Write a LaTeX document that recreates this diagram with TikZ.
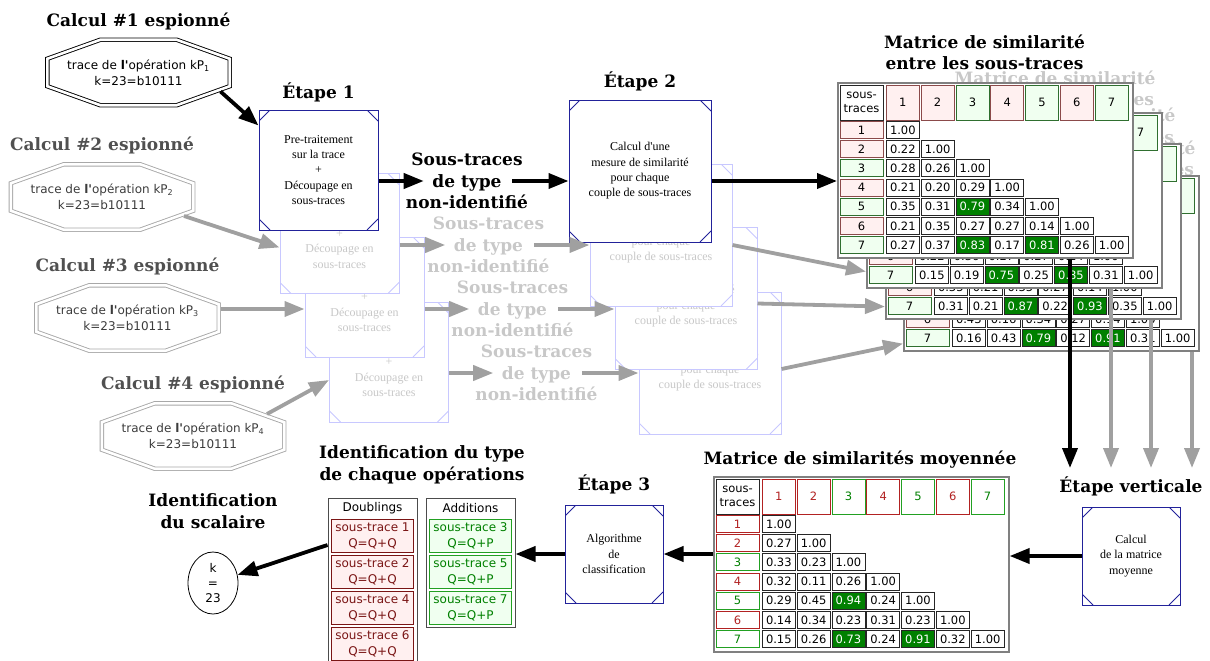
\documentclass[tikz,border=0pt]{standalone}
\usepackage{fontspec}
\setmainfont{DejaVu Serif}
\newfontfamily\tms{Liberation Serif}
\newfontfamily\dvs{DejaVu Sans}
\usepackage{tikz}
\usetikzlibrary{arrows.meta,positioning,calc,shapes.geometric}
\definecolor{BoxNavy}{HTML}{22229A}
\definecolor{FadeBlue}{HTML}{C8C8FF}
\definecolor{FadeText}{HTML}{C8C8C8}
\definecolor{ArrowGray}{HTML}{A0A0A0}
\definecolor{SpyGray}{HTML}{505050}
\definecolor{OctGray}{HTML}{A8A8A8}
\definecolor{OctText}{HTML}{3C3C3C}
\definecolor{FrameGray}{HTML}{808080}
\definecolor{PaleRedFill}{HTML}{FFF0F0}
\definecolor{PaleGreenFill}{HTML}{F0FFF0}
\definecolor{PaleRedLine}{HTML}{8B4A4A}
\definecolor{PaleGreenLine}{HTML}{2F6F2F}
\definecolor{ClassRed}{HTML}{B22222}
\definecolor{ClassGreen}{HTML}{22A022}
\definecolor{TextGreen}{HTML}{008000}
\definecolor{HiGreen}{HTML}{008000}
\definecolor{DoubRed}{HTML}{7A1515}

\newcommand{\pretrait}{Pre-traitement\\sur la trace\\+\\Découpage en\\sous-traces}
\newcommand{\mesure}{Calcul d'une\\mesure de similarité\\pour chaque\\couple de sous-traces}
\newcommand{\nonid}{Sous-traces\\de type\\non-identifié}
\newcommand{\spytrace}[1]{trace de \textbf{l'}opération kP\textsubscript{#1}\\k=23=b10111}
\newcommand{\simmat}[5]{%
  \node[mframe, anchor=north west] (#1) at (#2) {};
  \node[stcell] (#1-st) at ($(#1.north west)+(24.5,20.5)$) {sous-\\traces};
  \foreach \c [count=\j] in {r,r,g,r,g,r,g} {
    \node[#3\c, minimum height=35pt] (#1-h\j) at ($(#1.north west)+(31+34.8*\j,20.5)$) {\j};
    \node[#3\c, minimum width=43pt] (#1-r\j) at ($(#1.north west)+(24.5,28.83+19.17*\j)$) {\j};
  }
  \foreach \row [count=\i from #4] in {#5} {
    \foreach \v [count=\j] in \row {
      \pgfmathtruncatemacro\hival{(\v>0.5)&&(\v<0.99)}
      \ifnum\hival=1 \def\cellst{hicell}\else\def\cellst{valcell}\fi
      \node[\cellst] (#1-\i-\j) at ($(#1.north west)+(31+34.8*\j,28.83+19.17*\i)$) {\v};
    }
  }%
}

\begin{document}
\begin{tikzpicture}[x=1pt, y=-1pt, node distance=8pt,
  ttl/.style={font=\bfseries\fontsize{17}{21.5}\selectfont, align=center, inner sep=0pt},
  octbox/.style={minimum width=182pt, minimum height=65pt, inner sep=0pt, align=center, font=\dvs\fontsize{12}{16}\selectfont},
  octline/.style={draw=#1, double, double distance=2.6pt, line width=0.9pt},
  msq/.style={draw=#1, fill=white, line width=1pt, inner sep=0pt, align=center, font=\tms\fontsize{12}{15.3}\selectfont,
    path picture={\draw[#1, line width=1pt]
      ([yshift=-11pt]path picture bounding box.north west) -- ([xshift=11pt]path picture bounding box.north west)
      ([yshift=-11pt]path picture bounding box.north east) -- ([xshift=-11pt]path picture bounding box.north east)
      ([yshift=11pt]path picture bounding box.south west) -- ([xshift=11pt]path picture bounding box.south west)
      ([yshift=11pt]path picture bounding box.south east) -- ([xshift=-11pt]path picture bounding box.south east);}},
  fade/.style={msq=FadeBlue, text=FadeText},
  s1box/.style={minimum width=119pt, minimum height=120pt},
  s2box/.style={minimum width=142pt, minimum height=142pt},
  s3box/.style={minimum width=98pt, minimum height=98pt},
  arr/.style={-{Triangle[length=20pt,width=15pt]}, line width=3.8pt},
  garr/.style={arr, draw=ArrowGray},
  mframe/.style={draw=FrameGray, line width=1.6pt, fill=white, minimum width=295pt, minimum height=175pt, inner sep=0pt},
  valcell/.style={draw=black!85, fill=white, line width=0.8pt, inner sep=0pt, minimum width=33pt, minimum height=17pt, font=\dvs\fontsize{11.5}{13}\selectfont},
  hicell/.style={valcell, fill=HiGreen, text=white},
  stcell/.style={valcell, minimum width=43pt, minimum height=35pt, align=center, font=\dvs\fontsize{11.5}{14}\selectfont},
  paler/.style={valcell, fill=PaleRedFill, draw=PaleRedLine},
  paleg/.style={valcell, fill=PaleGreenFill, draw=PaleGreenLine},
  liner/.style={valcell, draw=ClassRed, text=ClassRed},
  lineg/.style={valcell, draw=ClassGreen, text=TextGreen},
  tframe/.style={draw=black!70, line width=1pt, fill=white, inner sep=0pt, minimum width=89pt},
  thead/.style={font=\dvs\fontsize{12}{15}\selectfont, inner sep=0pt},
  dcell/.style={draw=DoubRed, fill=PaleRedFill, text=DoubRed, line width=0.9pt, minimum width=82pt, minimum height=33pt, inner sep=0pt, align=center, font=\dvs\fontsize{12}{16}\selectfont},
  acell/.style={dcell, draw=ClassGreen, fill=PaleGreenFill, text=TextGreen}]
\useasboundingbox (0,0) rectangle (1210,661);

\node[octbox] (o1) at (138.5,72.5) {\spytrace{1}};
\node[octbox, text=OctText] (o2) at (102,197) {\spytrace{2}};
\node[octbox, text=OctText] (o3) at (127.5,318) {\spytrace{3}};
\node[octbox, text=OctText] (o4) at (193,436) {\spytrace{4}};
\foreach \n/\c in {o1/black,o2/OctGray,o3/OctGray,o4/OctGray}
  \draw[octline=\c] ($(\n.north west)!0.29!(\n.north east)$) -- ($(\n.north west)!0.71!(\n.north east)$)
    -- ($(\n.north east)!0.29!(\n.south east)$) -- ($(\n.north east)!0.71!(\n.south east)$)
    -- ($(\n.south west)!0.71!(\n.south east)$) -- ($(\n.south west)!0.29!(\n.south east)$)
    -- ($(\n.north west)!0.71!(\n.south west)$) -- ($(\n.north west)!0.29!(\n.south west)$) -- cycle;
\node[ttl, above=10pt of o1] (c1) {Calcul \#1 espionné};
\node[ttl, text=SpyGray, above=10pt of o2] (c2) {Calcul \#2 espionné};
\node[ttl, text=SpyGray, above=10pt of o3] (c3) {Calcul \#3 espionné};
\node[ttl, text=SpyGray, above=10pt of o4] (c4) {Calcul \#4 espionné};

\node[fade, s1box] (s1d) at (389,362) {\pretrait};
\node[fade, s1box] (s1c) at (364.5,297) {\pretrait};
\node[fade, s1box] (s1b) at (339.5,233.5) {\pretrait};
\node[msq=BoxNavy, s1box] (s1) at (318.5,170) {\pretrait};
\node[ttl, above=7pt of s1] (e1) {Étape 1};

\node[ttl] (lab1) at (467,181) {\nonid};
\node[ttl, text=FadeText] (lab2) at (488.5,245) {\nonid};
\node[ttl, text=FadeText] (lab3) at (512.5,309) {\nonid};
\node[ttl, text=FadeText] (lab4) at (536.5,373) {\nonid};

\node[fade, s2box] (s2d) at (710,363) {\mesure};
\node[fade, s2box] (s2c) at (686,298.5) {\mesure};
\node[fade, s2box] (s2b) at (661,235) {\mesure};
\node[msq=BoxNavy, s2box] (s2) at (640,171) {\mesure};
\node[ttl, above=of s2] (e2) {Étape 2};

\node[ttl, text=FadeText] (t4) at (1095,158.5) {Matrice de similarité\\entre les sous-traces};
\simmat{m4}{903,175}{pale}{6}{{0.43,0.16,0.34,0.27,0.14,1.00},{0.16,0.43,0.79,0.12,0.91,0.31,1.00}}
\node[ttl, text=FadeText] (t3) at (1075,126) {Matrice de similarité\\entre les sous-traces};
\simmat{m3}{885,143}{pale}{6}{{0.35,0.21,0.35,0.27,0.14,1.00},{0.31,0.21,0.87,0.22,0.93,0.35,1.00}}
\node[ttl, text=FadeText] (t2) at (1055,88.5) {Matrice de similarité\\entre les sous-traces};
\simmat{m2}{866,112}{pale}{6}{{0.22,0.36,0.27,0.27,0.14,1.00},{0.15,0.19,0.75,0.25,0.85,0.31,1.00}}
\node[ttl] (t1) at (984.5,52.5) {Matrice de similarité\\entre les sous-traces};
\simmat{m1}{837,82}{pale}{1}{{1.00},{0.22,1.00},{0.28,0.26,1.00},{0.21,0.20,0.29,1.00},{0.35,0.31,0.79,0.34,1.00},{0.21,0.35,0.27,0.27,0.14,1.00},{0.27,0.37,0.83,0.17,0.81,0.26,1.00}}

\node[msq=BoxNavy, s3box] (sv) at (1131,556) {Calcul\\de la matrice\\moyenne};
\node[ttl, above=10pt of sv] (ev) {Étape verticale};
\coordinate (v1) at (1070,468);
\coordinate (v2) at (1111,468);
\coordinate (v3) at (1151,468);
\coordinate (v4) at (1192,468);

\node[ttl] (tm) at (860,460) {Matrice de similarités moyennée};
\simmat{mm}{713,476}{line}{1}{{1.00},{0.27,1.00},{0.33,0.23,1.00},{0.32,0.11,0.26,1.00},{0.29,0.45,0.94,0.24,1.00},{0.14,0.34,0.23,0.31,0.23,1.00},{0.15,0.26,0.73,0.24,0.91,0.32,1.00}}

\node[msq=BoxNavy, s3box] (s3) at (614,554) {Algorithme\\de\\classification};
\node[ttl, above=10pt of s3] (e3) {Étape 3};

\node[ttl] (tid) at (422,465) {Identification du type\\de chaque opérations};
\node[tframe, minimum height=170pt, anchor=north] (dbl) at (372.5,498) {};
\node[tframe, minimum height=129pt, anchor=north] (add) at (470.5,498) {};
\node[thead] (dbl-h) at (372.5,508) {Doublings};
\node[thead] (add-h) at (470.5,508) {Additions};
\foreach \k [count=\n] in {1,2,4,6}
  \node[dcell] (dbl-\k) at (372.5,500+36*\n) {sous-trace \k\\Q=Q+Q};
\foreach \k [count=\n] in {3,5,7}
  \node[acell] (add-\k) at (470.5,500+36*\n) {sous-trace \k\\Q=Q+P};

\node[ttl] (tk) at (213,511) {Identification\\du scalaire};
\node[ellipse, draw, line width=0.8pt, minimum width=50pt, minimum height=62pt, inner sep=0pt, align=center, font=\dvs\fontsize{12}{15}\selectfont] (k) at (213,583) {k\\=\\23};

\draw[arr] ($(o1.center)+(82,19)$) -- ($(s1.north west)+(0,16)$);
\draw[garr] ($(o2.center)+(82,19)$) -- ($(s1b.west)+(0,14)$);
\draw[garr] ($(o3.east |- lab3)+(2,0)$) -- (s1c.west |- lab3);
\draw[garr] ($(o4.center)+(74,-22)$) -- ($(s1d.west)+(0,18)$);
\draw[arr] (s1.east |- lab1) -- ($(lab1.west)+(18,0)$);
\draw[garr] (s1b.east |- lab2) -- ($(lab2.west)+(18,0)$);
\draw[garr] (s1c.east |- lab3) -- ($(lab3.west)+(18,0)$);
\draw[garr] (s1d.east |- lab4) -- ($(lab4.west)+(18,0)$);
\draw[arr] ($(lab1.east)+(-16,0)$) -- (s2.west |- lab1);
\draw[garr] ($(lab2.east)+(-16,0)$) -- (s2b.west |- lab2);
\draw[garr] ($(lab3.east)+(-16,0)$) -- (s2c.west |- lab3);
\draw[garr] ($(lab4.east)+(-16,0)$) -- (s2d.west |- lab4);
\draw[arr] (s2.east |- lab1) -- (m1.west |- lab1);
\draw[garr] (s2b.east |- lab2) -- ($(m2.south west)+(0,-17)$);
\draw[garr] ($(s2c.east)+(0,5)$) -- ($(m3.south west)+(0,-13)$);
\draw[garr] ($(s2d.east)+(0,6)$) -- ($(m4.south west)+(0,-8)$);
\draw[garr] (v2 |- m2.south) -- (v2);
\draw[garr] (v3 |- m3.south) -- (v3);
\draw[garr] (v4 |- m4.south) -- (v4);
\draw[arr] (v1 |- m1.south) -- (v1);
\draw[arr] (sv.west) -- (mm.east |- sv.west);
\draw[arr] (mm.west |- s3.east) -- (s3.east);
\draw[arr] (s3.west) -- (add.east |- s3.west);
\draw[arr] ($(dbl.north west)+(0,47)$) -- (k);
\end{tikzpicture}
\end{document}
